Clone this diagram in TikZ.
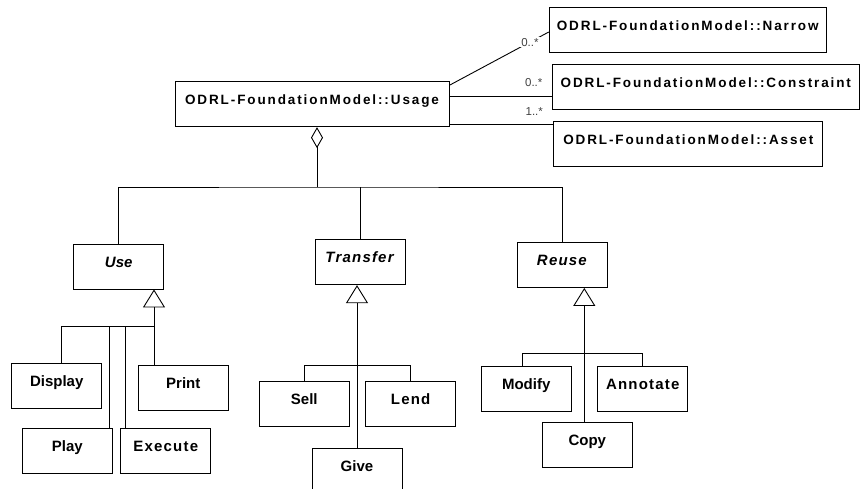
\documentclass[tikz,border=0pt]{standalone}
\usepackage{fontspec}
\setmainfont{Liberation Sans}
\newfontfamily\namefont[LetterSpace=14]{Liberation Sans}
\newfontfamily\wordfont[LetterSpace=8]{Liberation Sans}
\usetikzlibrary{arrows.meta}

\begin{document}
\begin{tikzpicture}[x=1pt, y=-1pt, line width=0.9pt,
    cls/.style={draw, rectangle, inner xsep=0pt, inner ysep=0pt, minimum width=90pt,
      text height=23pt, text depth=22pt, font=\fontsize{15}{18}\selectfont\bfseries},
    spaced/.style={font=\wordfont\fontsize{15}{18}\selectfont\bfseries},
    clsmodel/.style={cls, font=\namefont\fontsize{13.5}{16}\selectfont\bfseries},
    mult/.style={inner sep=0pt, text=black!75, font=\fontsize{11.5}{13}\selectfont},
    inh/.style={-{Triangle[open,length=18pt,width=22pt]}},
    agg/.style={{Diamond[open,length=21pt,width=12pt]}-}]
  \useasboundingbox (0,0) rectangle (861,488);

  \node[clsmodel, minimum width=274pt] (usage) at (312,104.2) {ODRL-FoundationModel::Usage};
  \node[clsmodel, minimum width=277pt] (narrow) at (687.7,29.5) {ODRL-FoundationModel::Narrow};
  \node[clsmodel, minimum width=307pt] (constraint) at (705.8,87.2) {ODRL-FoundationModel::Constraint};
  \node[clsmodel, minimum width=269pt] (asset) at (688.3,144.2) {ODRL-FoundationModel::Asset};

  \node[cls] (use) at (118.7,266.5) {\textit{Use}};
  \node[cls, spaced] (transfer) at (360.5,262.2) {\textit{Transfer}};
  \node[cls, spaced] (reuse) at (562.5,265) {\textit{Reuse}};

  \node[cls] (display) at (56.7,385.8) {Display};
  \node[cls] (print) at (183.3,387.5) {Print};
  \node[cls] (play) at (67.3,450.5) {Play};
  \node[cls, spaced] (execute) at (165.8,450.5) {Execute};

  \node[cls] (sell) at (304.3,403.5) {Sell};
  \node[cls, spaced] (lend) at (410.7,403.5) {Lend};
  \node[cls] (give) at (357,470.8) {Give};

  \node[cls] (modify) at (526.2,389.2) {Modify};
  \node[cls, spaced] (annotate) at (642.8,389.2) {Annotate};
  \node[cls] (copy) at (587.3,444.5) {Copy};

  % associations
  \draw ([yshift=-4pt]usage.north east) -- node[mult, pos=0.81, fill=white, inner sep=1pt] {0..*} ([yshift=-2.5pt]narrow.west);
  \draw ([yshift=8pt]usage.east) -- ([yshift=8pt]usage.east -| constraint.west)
    node[mult, anchor=south east, xshift=-9pt, yshift=9pt] {0..*};
  \draw ([yshift=-20pt]usage.east) -- ([yshift=-20pt]usage.east -| asset.west)
    node[mult, anchor=south east, xshift=-10pt, yshift=8pt] {1..*};

  % aggregation
  \coordinate (bus) at (317,187);
  \draw[agg] (usage.south -| bus) -- (bus);
  \draw (use.north) |- (bus) -| (reuse.north);
  \draw (transfer.north) -- (transfer.north |- bus);

  % Use
  \coordinate (usefork) at (154,326);
  \draw[inh] (usefork |- print.north) -- (usefork |- use.south);
  \draw ([xshift=5pt]display.north) |- (usefork);
  \draw ([xshift=-3pt]play.north east) -- ([xshift=-3pt]play.north east |- usefork);
  \draw ([xshift=5pt]execute.north west) -- ([xshift=5pt]execute.north west |- usefork);

  % Transfer
  \draw[inh] (give.north) -- (give.north |- transfer.south);
  \draw (sell.north) -- ++(0,-15) -| (lend.north);

  % Reuse
  \draw[inh] ([xshift=-3pt]copy.north) -- ([xshift=-3pt]copy.north |- reuse.south);
  \draw ([xshift=-4pt]modify.north) -- ++(0,-12.7) -| (annotate.north);
\end{tikzpicture}
\end{document}
